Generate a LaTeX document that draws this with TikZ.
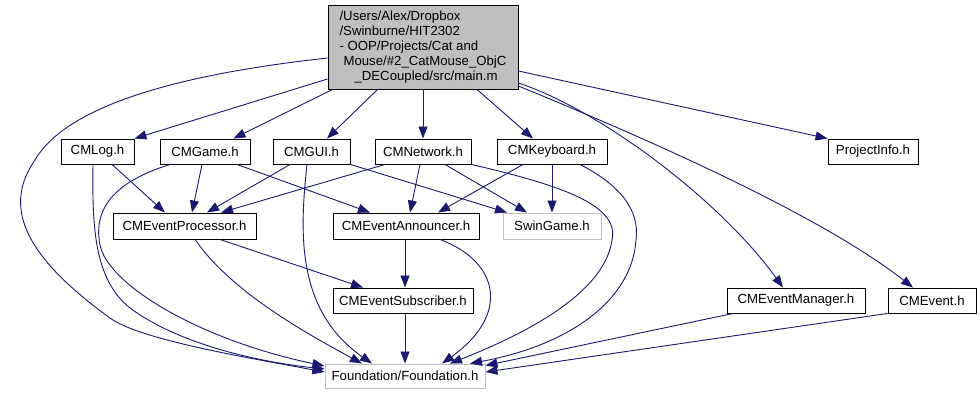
\documentclass[tikz,border=0pt]{standalone}
\usepackage{fontspec}
\setmainfont{Liberation Sans}
\usetikzlibrary{arrows.meta,calc}
\definecolor{edgeblue}{HTML}{191970}
\definecolor{sysgray}{HTML}{BFBFBF}
\begin{document}
\begin{tikzpicture}[x=1pt,y=-1pt,
  font=\fontsize{13.2}{15}\selectfont,
  hdr/.style={draw=black, line width=0.95pt, fill=white, inner sep=0pt,
              minimum height=25pt},
  sys/.style={hdr, draw=sysgray},
  dep/.style={draw=edgeblue, line width=0.9pt,
              -{Triangle[length=12pt,width=9pt]}},
]
\useasboundingbox (0,0) rectangle (980,395);

% the source file
\node[hdr, fill=sysgray, minimum width=190pt, minimum height=84pt, align=left]
  (main) at (423,47)
  {/Users/Alex/Dropbox\\/Swinburne/HIT2302\\- OOP/Projects/Cat and\\
   \hspace*{4pt}Mouse/\#2\_CatMouse\_ObjC\\\hspace*{15pt}\_DECoupled/src/main.m};

% headers
\node[hdr, minimum width=73pt]  (log)  at (97.5,151.5) {CMLog.h};
\node[hdr, minimum width=90pt]  (game) at (205,151.5)  {CMGame.h};
\node[hdr, minimum width=77pt]  (gui)  at (311.5,151.5) {CMGUI.h};
\node[hdr, minimum width=96pt]  (net)  at (423,151.5)  {CMNetwork.h};
\node[hdr, minimum width=110pt] (kbd)  at (552,151.5)  {CMKeyboard.h};
\node[hdr, minimum width=90pt]  (proj) at (873,151.5)  {ProjectInfo.h};
\node[hdr, minimum width=143pt, minimum height=26pt] (proc) at (184.5,226) {CMEventProcessor.h};
\node[hdr, minimum width=146pt, minimum height=26pt] (ann)  at (406,226)   {CMEventAnnouncer.h};
\node[sys, minimum width=98pt,  minimum height=26pt] (sw)   at (552,226)   {SwinGame.h};
\node[hdr, minimum width=140pt] (sub)  at (403,300.5) {CMEventSubscriber.h};
\node[hdr, minimum width=138pt] (mgr)  at (796,300.5) {CMEventManager.h};
\node[hdr, minimum width=88pt]  (ev)   at (932,300.5) {CMEvent.h};
\node[sys, minimum width=160pt, minimum height=24pt] (found) at (405,376) {Foundation/Foundation.h};

% includes of main.m
\draw[dep] ($(main.west)+(0,32)$) -- (log.north east);
\draw[dep] ($(main.south west)+(5,0)$) -- ($(game.north east)+(-17,0)$);
\draw[dep] ($(main.south west)+(50,0)$) -- ($(gui.north)+(15.5,0)$);
\draw[dep] (main.south) -- (net.north);
\draw[dep] ($(main.south)+(54,0)$) -- ($(kbd.north)+(-19,0)$);
\draw[dep] ($(main.east)+(0,24)$) -- (proj.north west);
\draw[dep] ($(main.east)+(0,36)$) .. controls (600,110) and (720,200) .. ($(mgr.north)+(-13,0)$);
\draw[dep] ($(main.east)+(0,39)$) .. controls (650,140) and (820,215) .. ($(ev.north)+(-19,0)$);
\draw[dep] ($(main.west)+(0,11)$) .. controls (200,72) and (70,100) .. (35,160)
  .. controls (0,210) and (30,260) .. (110,318)
  .. controls (140,340) and (250,358) .. ($(found.west)+(0,-4)$);

% CMLog.h
\draw[dep] ($(log.south)+(14.5,0)$) -- ($(proc.north)+(-19.5,0)$);
\draw[dep] ($(log.south)+(-4.5,0)$) .. controls (92,230) and (95,280) .. (130,308)
  .. controls (180,345) and (260,362) .. ($(found.west)+(0,-7)$);

% CMGame.h
\draw[dep] ($(game.south)+(-3,0)$) -- ($(proc.north)+(7.5,0)$);
\draw[dep] ($(game.south)+(32,0)$) -- ($(ann.north)+(-36,0)$);
\draw[dep] ($(game.south)+(-35,0)$) .. controls (120,180) and (92,205) .. (100,245)
  .. controls (108,285) and (200,340) .. ($(found.west)+(0,-10)$);

% CMGUI.h
\draw[dep] ($(gui.south)+(-21.5,0)$) -- ($(proc.north)+(22.5,0)$);
\draw[dep] (gui.south east) -- ($(sw.north)+(-45,0)$);
\draw[dep] ($(gui.south)+(-4.5,0)$) .. controls (300,230) and (295,310) .. ($(found.north)+(-33,0)$);

% CMNetwork.h
\draw[dep] ($(net.south)+(-38,0)$) -- ($(proc.north)+(36.5,0)$);
\draw[dep] ($(net.south)+(-3,0)$) -- ($(ann.north)+(4,0)$);
\draw[dep] ($(net.south)+(22,0)$) -- ($(sw.north)+(-25,0)$);
\draw[dep] (net.south east) .. controls (560,185) and (620,205) .. (612,240)
  .. controls (605,290) and (535,330) .. ($(found.north)+(45,0)$);

% CMKeyboard.h
\draw[dep] ($(kbd.south)+(-29,0)$) -- ($(ann.north)+(32,0)$);
\draw[dep] (kbd.south) -- (sw.north);
\draw[dep] ($(kbd.south)+(28,0)$) .. controls (620,185) and (640,210) .. (636,240)
  .. controls (632,300) and (570,345) .. ($(found.north)+(65,0)$);

% CMEventProcessor.h
\draw[dep] ($(proc.south)+(35.5,0)$) -- ($(sub.north)+(-40,0)$);
\draw[dep] ($(proc.south)+(10.5,0)$) .. controls (230,290) and (300,330) .. ($(found.north)+(-43,0)$);

% CMEventAnnouncer.h
\draw[dep] ($(ann.south)+(-1,0)$) -- ($(sub.north)+(2,0)$);
\draw[dep] ($(ann.south)+(34,0)$) .. controls (500,262) and (510,315) .. ($(found.north)+(37,0)$);

% remaining headers
\draw[dep] (sub.south -| found.north) -- (found.north);
\draw[dep] ($(mgr.south)+(-63,0)$) -- ($(found.north east)+(0,2)$);
\draw[dep] (ev.south west) -- ($(found.east)+(0,-4)$);
\end{tikzpicture}
\end{document}
